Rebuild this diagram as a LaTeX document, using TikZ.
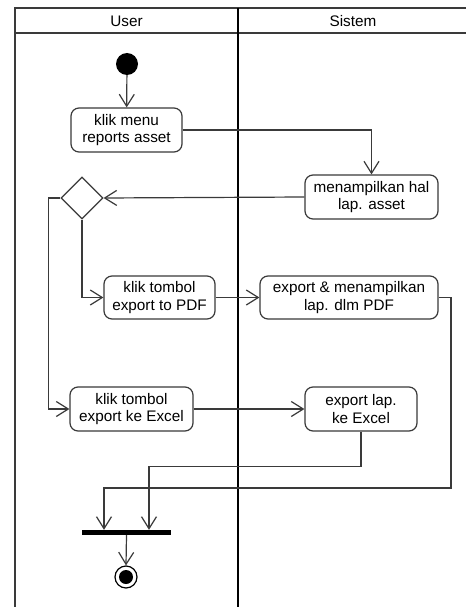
\documentclass[tikz,border=0pt]{standalone}
\usepackage{fontspec}
\setmainfont{Liberation Sans}
\usetikzlibrary{arrows.meta,shapes.geometric}
\definecolor{ln}{HTML}{3A3A3A}
\tikzset{
  act/.style={draw=ln, line width=1.2pt, rounded corners=8pt, align=center,
    inner sep=0pt, font=\fontsize{15.3}{17.7}\selectfont},
  flow/.style={draw=ln, line width=1.2pt, -{Straight Barb[length=12pt,width=15pt,line width=1.2pt]}},
  lane/.style={draw=ln, line width=1.2pt},
  lanediv/.style={draw=black, line width=2.2pt},
  hdr/.style={font=\fontsize{15.3}{17.7}\selectfont}
}
\begin{document}
\begin{tikzpicture}[x=1pt,y=-1pt]
\useasboundingbox[fill=white] (0,0) rectangle (466,607);
% swimlane frame
\draw[lane] (15,607) -- (15,8) -- (466,8);
\draw[lane] (15,33) -- (466,33);
\draw[lanediv] (238,8) -- (238,607);
\node[hdr] (uhdr) at (126.5,21) {User};
\node[hdr] (shdr) at (353,21) {Sistem};
% nodes
\node[circle, fill=black, minimum size=22pt, inner sep=0pt] (start) at (127,64) {};
\node[act, minimum width=111pt, minimum height=44pt] (menu) at (126.5,130) {klik menu\\reports asset};
\node[act, minimum width=133pt, minimum height=44pt] (hal) at (371.5,197) {menampilkan hal\\lap. asset};
\node[diamond, draw=ln, line width=1.2pt, minimum width=42pt, minimum height=42pt, inner sep=0pt] (dec) at (82,198) {};
\node[act, minimum width=111pt, minimum height=43pt] (pdf) at (159.5,297.5) {klik tombol\\export to PDF};
\node[act, minimum width=178pt, minimum height=43pt] (pdfout) at (349,297.5) {export \& menampilkan\\lap. dlm PDF};
\node[act, minimum width=123pt, minimum height=44pt] (xls) at (131.5,409) {klik tombol\\export ke Excel};
\node[act, minimum width=112pt, minimum height=44pt] (xlsout) at (361,409) {export lap.\\ke Excel};
\node[rectangle, fill=black, minimum width=89pt, minimum height=5pt, inner sep=0pt] (bar) at (126.5,532.5) {};
\node[circle, draw=black, line width=1.2pt, minimum size=22pt, inner sep=0pt] (stop) at (126,577) {};
\node[circle, fill=black, minimum size=14pt, inner sep=0pt] (stopdot) at (stop.center) {};
\coordinate (rturn) at (451,488);
% flows
\draw[flow] (start) -- (menu);
\draw[flow] (menu.east) -| (hal.north);
\draw[flow] (hal.west) -- (dec.east);
\draw[flow] (dec.south) |- (pdf.west);
\draw[flow] (dec.west) -- ++(-12,0) |- (xls.west);
\draw[flow] (pdf.east) -- (pdfout.west);
\draw[flow] (xls.east) -- (xlsout.west);
\draw[flow] (xlsout.south) -- ++(0,35) -| ([xshift=22.5pt]bar.north);
\draw[flow] (pdfout.east) -| (rturn) -| ([xshift=-22.5pt]bar.north);
\draw[flow] (bar.south) -- (stop.north);
\end{tikzpicture}
\end{document}
